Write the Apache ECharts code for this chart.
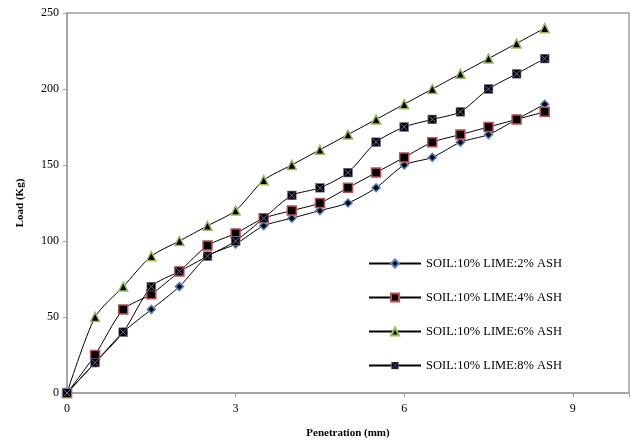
<!DOCTYPE html>
<html>
<head>
<meta charset="utf-8">
<script src="https://cdn.jsdelivr.net/npm/echarts@6/dist/echarts.min.js"></script>
<style>
  html, body { margin: 0; padding: 0; background: #fff; }
  #show_picture { width: 644px; height: 441px; }
</style>
</head>
<body>
<div id="show_picture"></div>
<script>
// penetration (mm)
const penetration = [0, 0.5, 1, 1.5, 2, 2.5, 3, 3.5, 4, 4.5, 5, 5.5, 6, 6.5, 7, 7.5, 8, 8.5];

const seriesNames = [
    'SOIL:10% LIME:2% ASH',
    'SOIL:10% LIME:4% ASH',
    'SOIL:10% LIME:6% ASH',
    'SOIL:10% LIME:8% ASH'
];

// load (Kg)
const ash2 = [0, 20, 40, 55, 70, 90, 98, 110, 115, 120, 125, 135, 150, 155, 165, 170, 180, 190];
const ash4 = [0, 25, 55, 65, 80, 97, 105, 115, 120, 125, 135, 145, 155, 165, 170, 175, 180, 185];
const ash6 = [0, 50, 70, 90, 100, 110, 120, 140, 150, 160, 170, 180, 190, 200, 210, 220, 230, 240];
const ash8 = [0, 20, 40, 70, 80, 90, 100, 115, 130, 135, 145, 165, 175, 180, 185, 200, 210, 220];

const xTicks = [0, 3, 6, 9];
const yTicks = [0, 50, 100, 150, 200, 250];

let show_picture = document.getElementById('show_picture');
let myChart = echarts.init(show_picture);

function pairs(ys) {
    return penetration.map((x, i) => [x, ys[i]]);
}

// black square with a purple cross, as the 8% marker
const crossSvg = '<svg xmlns="http://www.w3.org/2000/svg" width="18" height="18" viewBox="0 0 18 18">' +
    '<rect x="1" y="1" width="16" height="16" fill="#000" stroke="#7f7f9f" stroke-width="1.5"/>' +
    '<path d="M3 3 L15 15 M15 3 L3 15" stroke="#8064A2" stroke-width="1.8"/></svg>';
const crossSymbol = 'image://data:image/svg+xml;charset=utf-8,' + encodeURIComponent(crossSvg);

const font = '"Liberation Serif", "Times New Roman", serif';

function lineSeries(name, ys, symbol, size, border) {
    return {
        name: name,
        type: 'line',
        data: pairs(ys),
        smooth: 0.25,
        symbol: symbol,
        symbolSize: size,
        showAllSymbol: true,
        lineStyle: { color: '#000', width: 1 },
        itemStyle: { color: '#000', borderColor: border, borderWidth: 1.5 },
        emphasis: { disabled: true }
    };
}

let option = {
    animation: false,
    backgroundColor: '#fff',
    textStyle: { fontFamily: font, color: '#000' },
    grid: {
        left: 67, right: 15, top: 13, bottom: 48,
        outerBoundsMode: 'none',
        show: true,
        borderColor: '#a0a0a0',
        borderWidth: 1.5
    },
    legend: {
        orient: 'vertical',
        left: 363,
        top: 252,
        itemWidth: 52,
        itemHeight: 10,
        itemGap: 21,
        textStyle: { fontFamily: font, fontSize: 12.5, color: '#000' },
        data: seriesNames
    },
    xAxis: {
        type: 'value',
        min: 0,
        max: 10,
        interval: 3,
        name: 'Penetration (mm)',
        nameLocation: 'middle',
        nameGap: 35,
        nameTextStyle: { fontFamily: font, fontWeight: 'bold', fontSize: 11, color: '#000' },
        axisLine: { show: true, lineStyle: { color: '#a0a0a0', width: 1.5 } },
        axisTick: { show: true, inside: false, length: 4, lineStyle: { color: '#a0a0a0' } },
        axisLabel: {
            fontFamily: font, fontSize: 12, color: '#000', margin: 10,
            formatter: v => (xTicks.indexOf(v) >= 0 ? String(v) : '')
        },
        splitLine: { show: false }
    },
    yAxis: {
        type: 'value',
        min: 0,
        max: 250,
        interval: 50,
        name: 'Load (Kg)',
        nameLocation: 'middle',
        nameGap: 41,
        nameRotate: 90,
        nameTextStyle: { fontFamily: font, fontWeight: 'bold', fontSize: 11, color: '#000' },
        axisLine: { show: true, lineStyle: { color: '#a0a0a0', width: 1.5 } },
        axisTick: { show: true, inside: false, length: 4, lineStyle: { color: '#a0a0a0' } },
        axisLabel: {
            fontFamily: font, fontSize: 12, color: '#000', margin: 8,
            formatter: v => (yTicks.indexOf(v) >= 0 ? String(v) : '')
        },
        splitLine: { show: false }
    },
    series: [
        lineSeries(seriesNames[0], ash2, 'diamond', 8, '#4F81BD'),
        lineSeries(seriesNames[1], ash4, 'rect', 9, '#C0504D'),
        lineSeries(seriesNames[2], ash6, 'triangle', 9, '#9BBB59'),
        lineSeries(seriesNames[3], ash8, crossSymbol, 10, '#8064A2')
    ]
};

option && myChart.setOption(option);
</script>
</body>
</html>
